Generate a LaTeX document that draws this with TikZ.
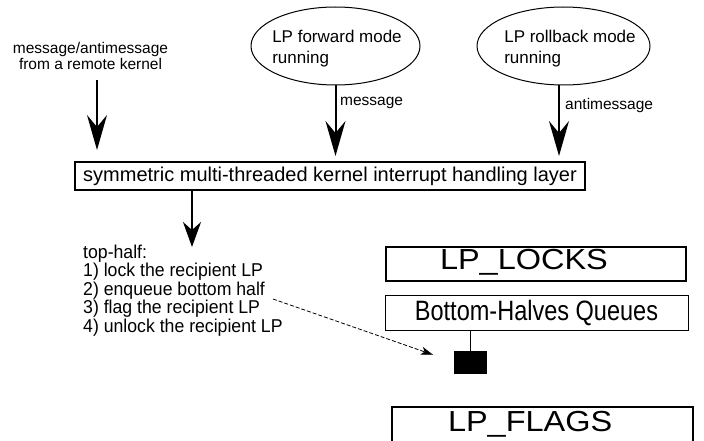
\documentclass[tikz,border=0pt]{standalone}
\usepackage{fontspec}
\setmainfont{Liberation Sans}
\newfontfamily\narrowsans[FakeStretch=0.95]{Liberation Sans}
\newfontfamily\bhqfont[FakeStretch=0.84]{Liberation Sans}
\newfontfamily\widesans[FakeStretch=1.12]{Liberation Sans}
\usetikzlibrary{arrows.meta, shapes.geometric}
\begin{document}
\begin{tikzpicture}[x=1pt,y=-1pt,
  bigarrow/.style={line width=2pt, -{Stealth[length=35pt,width=20pt,inset=12pt]}},
  midarrow/.style={line width=2pt, -{Stealth[length=25pt,width=18pt,inset=8pt]}},
  lbl/.style={font=\fontsize{15.5}{16}\selectfont, inner sep=0pt},
  oval/.style={ellipse, draw, line width=1pt, inner sep=0pt},
  ovaltext/.style={align=left, inner sep=0pt, font=\fontsize{17}{21}\selectfont},
  bigbox/.style={draw, line width=2pt, inner sep=0pt, font=\widesans\fontsize{29}{30}\selectfont},
  layerbox/.style={draw, line width=2pt, minimum width=510pt, minimum height=28pt, inner sep=0pt,
    font=\fontsize{20}{22}\selectfont},
  thinbox/.style={draw, line width=0.9pt, minimum width=303pt, minimum height=35pt, inner sep=0pt,
    font=\bhqfont\fontsize{28}{30}\selectfont},
  steptext/.style={align=left, inner sep=0pt, font=\narrowsans\fontsize{18.6}{18.5}\selectfont},
  dasharrow/.style={line width=0.8pt, dash pattern=on 4pt off 2pt,
    -{Stealth[length=12pt,width=8pt,inset=3pt]}}
]
\useasboundingbox (0,0) rectangle (704,441);

% top inputs
\node[lbl, align=center] (remote) at (90.5,56) {message/antimessage\\from a remote kernel};
\coordinate (a1) at (97,80);
\node[oval, minimum width=169pt, minimum height=78pt] (e1) at (335.5,46) {};
\node[ovaltext] (t1) at (337,49) {LP forward mode\\running};
\node[oval, minimum width=173pt, minimum height=78pt] (e2) at (563.5,46) {};
\node[ovaltext] (t2) at (570,49) {LP rollback mode\\running};

% layer box
\node[layerbox] (layer) at (330,176) {symmetric multi-threaded kernel interrupt handling layer};

% arrows into layer
\draw[bigarrow, shorten >=11pt] (a1) -- (a1 |- layer.north);
\draw[bigarrow, shorten >=5pt] (e1.south) -- (e1.south |- layer.north);
\coordinate (e2s) at ([xshift=-4.5pt]e2.south);
\draw[bigarrow, shorten >=5pt] (e2s) -- (e2s |- layer.north);
\node[lbl, anchor=west] (msg) at (340,103) {message};
\node[lbl, anchor=west] (amsg) at (565,105) {antimessage};

% top half
\coordinate (lo) at (192,190);
\node[steptext, anchor=north west] (top) at (83,244.5) {top-half:\\1) lock the recipient LP\\2) enqueue bottom half\\3) flag the recipient LP\\4) unlock the recipient LP};
\draw[midarrow, shorten >=-2.5pt] (lo) -- (lo |- top.north);

% right structures
\node[bigbox] (locks) at (536,264) {\makebox[300pt][l]{\rule[-12pt]{0pt}{34pt}\hspace{54pt}LP\_LOCKS}};
\node[thinbox] (bhq) at (536.5,312.5) {Bottom-Halves Queues};
\node[draw, fill=black, minimum width=32pt, minimum height=22pt, inner sep=0pt] (sq) at (470,362) {};
\draw[line width=0.9pt] (sq.north |- bhq.south) -- (sq.north);
\node[bigbox] (flags) at (542.5,425) {\makebox[301pt][l]{\rule[-12pt]{0pt}{36pt}\hspace{56pt}LP\_FLAGS}};

% dashed arrow
\coordinate (ds) at (273,299);
\draw[dasharrow, shorten >=22pt] (ds) -- (sq.west);
\end{tikzpicture}
\end{document}
